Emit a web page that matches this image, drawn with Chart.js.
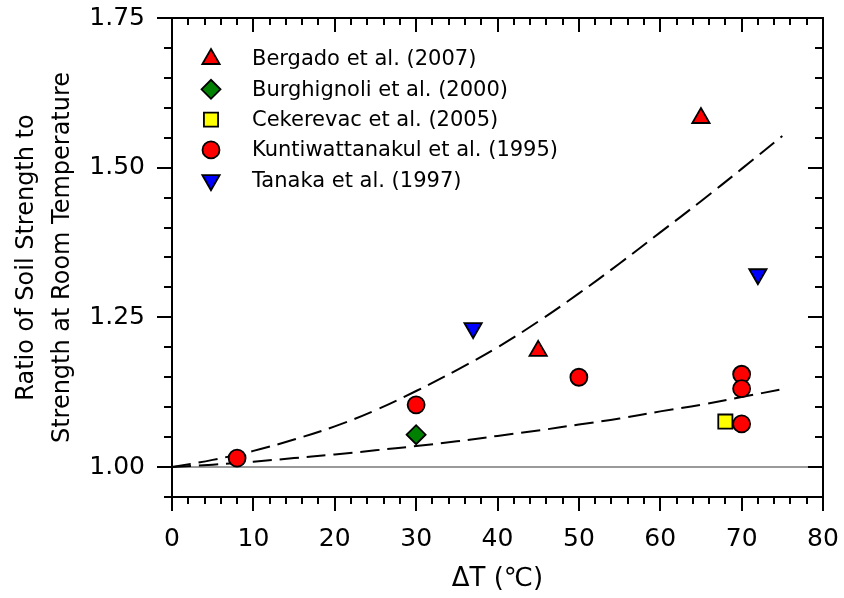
<!DOCTYPE html>
<html>
<head>
<meta charset="utf-8">
<script src="https://cdn.jsdelivr.net/npm/chart.js@4.4.1/dist/chart.umd.min.js"></script>
<style>
   html, body { margin: 0; padding: 0; background: #fff; }
</style>
</head>
<body>
<canvas id="soilChart" width="844" height="598"></canvas>
<script>
// data
let bergadoX = [45, 65];
let bergadoY = [1.194, 1.583];
let burghignoliX = [30];
let burghignoliY = [1.054];
let cekerevacX = [68];
let cekerevacY = [1.076];
let kuntiX = [8, 30, 50, 70, 70, 70];
let kuntiY = [1.015, 1.104, 1.15, 1.155, 1.131, 1.072];
let tanakaX = [37, 72];
let tanakaY = [1.232, 1.322];

// dashed envelope curves
let curveX = [0, 5, 10, 15, 20, 25, 30, 35, 40, 45, 50, 55, 60, 65, 70, 75];
let upperY = [1.0, 1.012, 1.027, 1.046, 1.068, 1.095, 1.127, 1.162, 1.2, 1.243, 1.29, 1.34, 1.392, 1.444, 1.498, 1.553];
let lowerY = [1.0, 1.004, 1.009, 1.015, 1.021, 1.028, 1.035, 1.043, 1.052, 1.061, 1.071, 1.081, 1.093, 1.104, 1.117, 1.13];

let refX = [0, 80];
let refY = [1, 1];

let yTicks = [1.0, 1.25, 1.5, 1.75];

const pts = (xs, ys) => xs.map((x, i) => ({x: x, y: ys[i]}));

Chart.defaults.font.family = "'DejaVu Sans', sans-serif";
Chart.defaults.color = "#000";

const marker = {
   borderColor: "#000",
   borderWidth: 1.8,
   showLine: false,
};

const framePlugin = {
   id: "frame",
   afterDraw(chart) {
      const ctx = chart.ctx;
      const a = chart.chartArea;
      const xs = chart.scales.x;
      const ys = chart.scales.y;
      ctx.save();
      ctx.strokeStyle = "#000";
      ctx.lineWidth = 2;
      ctx.strokeRect(a.left, a.top, a.right - a.left, a.bottom - a.top);
      ctx.beginPath();
      // x ticks every 2, major every 10
      for (let v = 0; v <= 80; v += 2) {
         const px = Math.round(xs.getPixelForValue(v));
         const len = v % 10 === 0 ? 14 : 7;
         ctx.moveTo(px, a.bottom);
         ctx.lineTo(px, a.bottom + len);
         ctx.moveTo(px, a.top);
         ctx.lineTo(px, a.top + len);
      }
      // y ticks every 0.05, major every 0.25
      for (let k = 19; k <= 35; k++) {
         const py = Math.round(ys.getPixelForValue(k * 0.05));
         const len = k % 5 === 0 ? 15 : 8;
         ctx.moveTo(a.left, py);
         ctx.lineTo(a.left - len, py);
         ctx.moveTo(a.right, py);
         ctx.lineTo(a.right - len, py);
      }
      ctx.stroke();

      // legend in the upper left corner
      const items = chart.data.datasets.filter(d => d.inLegend);
      ctx.font = "21px 'DejaVu Sans'";
      ctx.textBaseline = "middle";
      items.forEach((d, i) => {
         const y = 59 + i * 30.3;
         ctx.fillStyle = d.backgroundColor;
         ctx.strokeStyle = "#000";
         ctx.lineWidth = 1.8;
         Chart.helpers.drawPoint(ctx, {
            pointStyle: d.pointStyle,
            radius: d.pointRadius,
            rotation: d.pointRotation || 0,
            borderWidth: 1.8,
         }, 211, y);
         ctx.fillStyle = "#000";
         ctx.fillText(d.label, 252, y + 1);
      });
      ctx.restore();
   },
};

const ctx = document.getElementById("soilChart").getContext("2d");
const soilChart = new Chart(ctx, {
   type: "scatter",
   data: {
      datasets: [
         {
            label: "Bergado et al. (2007)",
            data: pts(bergadoX, bergadoY),
            pointStyle: "triangle",
            pointRadius: 10,
            backgroundColor: "#ff0000",
            inLegend: true,
            ...marker,
         },
         {
            label: "Burghignoli et al. (2000)",
            data: pts(burghignoliX, burghignoliY),
            pointStyle: "rectRot",
            pointRadius: 9.5,
            backgroundColor: "#008000",
            inLegend: true,
            ...marker,
         },
         {
            label: "Cekerevac et al. (2005)",
            data: pts(cekerevacX, cekerevacY),
            pointStyle: "rect",
            pointRadius: 10,
            backgroundColor: "#ffff00",
            inLegend: true,
            ...marker,
         },
         {
            label: "Kuntiwattanakul et al. (1995)",
            data: pts(kuntiX, kuntiY),
            pointStyle: "circle",
            pointRadius: 8.5,
            backgroundColor: "#ff0000",
            inLegend: true,
            ...marker,
         },
         {
            label: "Tanaka et al. (1997)",
            data: pts(tanakaX, tanakaY),
            pointStyle: "triangle",
            pointRotation: 180,
            pointRadius: 10,
            backgroundColor: "#0000ff",
            inLegend: true,
            ...marker,
         },
         {
            label: "upper",
            data: pts(curveX, upperY),
            showLine: true,
            borderColor: "#000",
            borderWidth: 2,
            borderDash: [19, 8],
            pointRadius: 0,
            tension: 0.4,
            order: 5,
         },
         {
            label: "lower",
            data: pts(curveX, lowerY),
            showLine: true,
            borderColor: "#000",
            borderWidth: 2,
            borderDash: [19, 8],
            pointRadius: 0,
            tension: 0.4,
            order: 5,
         },
         {
            label: "ref",
            data: pts(refX, refY),
            showLine: true,
            borderColor: "#999",
            borderWidth: 2,
            pointRadius: 0,
            order: 6,
         },
      ],
   },
   options: {
      responsive: false,
      animation: false,
      layout: {padding: {top: 18, right: 21, left: 0, bottom: 0}},
      plugins: {
         legend: {display: false},
         tooltip: {enabled: false},
      },
      scales: {
         x: {
            type: "linear",
            min: 0,
            max: 80,
            grid: {display: false, drawTicks: false},
            border: {display: false},
            ticks: {
               stepSize: 10,
               padding: 27,
               font: {size: 25},
            },
            title: {
               display: true,
               text: "\u0394T (\u2103)",
               font: {size: 26},
               padding: {top: 0, bottom: 3},
            },
            afterFit(s) {
               s.height = 101;
               s.paddingLeft = 0;
               s.paddingRight = 0;
            },
         },
         y: {
            min: 0.95,
            max: 1.75,
            grid: {display: false, drawTicks: false},
            border: {display: false},
            afterBuildTicks(s) { s.ticks = yTicks.map(v => ({value: v})); },
            ticks: {
               padding: 27,
               font: {size: 25},
               callback: v => Number(v).toFixed(2),
            },
            title: {
               display: true,
               text: ["Ratio of Soil Strength to", "Strength at Room Temperature"],
               font: {size: 24, lineHeight: 1.5},
               padding: {top: 9, bottom: 0},
            },
            afterFit(s) {
               s.width = 172;
               s.paddingTop = 0;
               s.paddingBottom = 0;
            },
         },
      },
   },
   plugins: [framePlugin],
});
</script>
</body>
</html>
